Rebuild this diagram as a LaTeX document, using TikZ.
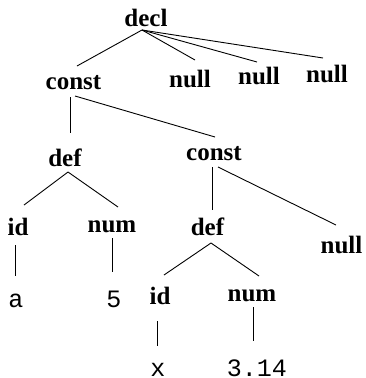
\documentclass[tikz,border=0pt]{standalone}
\usepackage{fontspec}
\setmainfont{Liberation Serif}
\setmonofont{Liberation Mono}
\usetikzlibrary{calc}
\tikzset{
  lbl/.style={anchor=base,inner sep=0pt,font=\fontsize{25}{30}\selectfont\bfseries},
  leaf/.style={anchor=base,inner sep=0pt,text depth=0pt,font=\fontsize{25}{30}\selectfont\ttfamily},
  edge/.style={line width=0.9pt}
}
\begin{document}
\begin{tikzpicture}[x=1pt,y=-1pt]
\useasboundingbox (0,0) rectangle (365,378);
\node[lbl] (decl) at (146,26) {decl};
\node[lbl] (const) at (73.5,89) {const};
\node[lbl] (nullA) at (190,87) {null};
\node[lbl] (nullB) at (259,84) {null};
\node[lbl] (nullC) at (327,82) {null};
\node[lbl] (def) at (65,166) {def};
\node[lbl] (constB) at (214,160) {const};
\node[lbl] (id) at (18,235) {id};
\node[lbl] (num) at (112,232) {num};
\node[lbl] (defB) at (207.5,235) {def};
\node[lbl] (nullD) at (341.5,253) {null};
\node[leaf] (a) at (16,307) {a};
\node[leaf] (five) at (114,307) {5};
\node[lbl] (idB) at (160,304) {id};
\node[lbl] (numB) at (252,301) {num};
\node[leaf] (x) at (158,376) {x};
\node[leaf] (pi) at (257,376) {3.14};

\draw[edge] ($(decl.base)+(-4,4)$) -- ($(const.base)+(3.5,-23)$);
\draw[edge] ($(decl.base)+(-4,4)$) -- ($(nullA.base)+(5,-27)$);
\draw[edge] ($(decl.base)+(-4,4)$) -- ($(nullB.base)+(-2,-22)$);
\draw[edge] ($(decl.base)+(-4,4)$) -- ($(nullC.base)+(-4,-24)$);
\draw[edge] ($(const.base)+(-3.5,8)$) -- ($(def.base)+(5,-33)$);
\draw[edge] ($(const.base)+(1.5,7)$) -- ($(constB.base)+(1,-23)$);
\draw[edge] ($(def.base)+(3,6)$) -- ($(id.base)+(6,-30)$);
\draw[edge] ($(def.base)+(3,6)$) -- ($(num.base)+(6,-25)$);
\draw[edge] ($(constB.base)+(-2,7)$) -- ($(defB.base)+(4.5,-25)$);
\draw[edge] ($(constB.base)+(4,7)$) -- ($(nullD.base)+(-5.5,-28)$);
\draw[edge] ($(id.base)+(-3,10)$) -- ($(a.base)+(-1,-31)$);
\draw[edge] ($(num.base)+(0,6)$) -- ($(five.base)+(-2,-35)$);
\draw[edge] ($(defB.base)+(3.5,8)$) -- ($(idB.base)+(4,-29)$);
\draw[edge] ($(defB.base)+(3.5,8)$) -- ($(numB.base)+(7,-25)$);
\draw[edge] ($(idB.base)+(-3,17)$) -- ($(x.base)+(-1,-30)$);
\draw[edge] ($(numB.base)+(1,6)$) -- ($(pi.base)+(-4,-35)$);
\end{tikzpicture}
\end{document}
